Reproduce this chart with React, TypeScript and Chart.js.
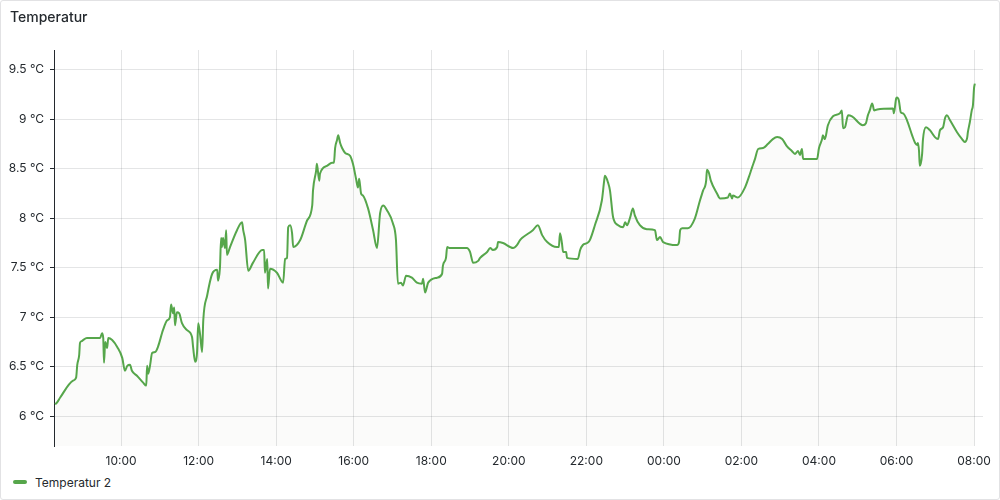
import React, { useEffect, useRef } from "react";
import { Chart, registerables } from "chart.js";

Chart.register(...registerables);

const seriesName = "Temperatur 2";
const title = "Temperatur";

// hours since midnight of the first day (24+ = next day)
const times = [
  8.30, 8.35, 8.43, 8.76, 8.84, 8.87, 8.92, 8.94, 8.99, 9.02, 9.12, 9.46, 9.51, 9.54, 9.56, 9.59, 9.64, 9.67, 9.77, 9.90,
  10.03, 10.10, 10.16, 10.23, 10.28, 10.41, 10.57, 10.65, 10.67, 10.70, 10.75, 10.80, 10.88, 10.95, 11.08, 11.19, 11.26, 11.29, 11.34, 11.37,
  11.39, 11.44, 11.50, 11.57, 11.70, 11.83, 11.86, 11.91, 11.96, 11.99, 12.04, 12.09, 12.12, 12.22, 12.35, 12.48, 12.50, 12.55, 12.58, 12.60,
  12.63, 12.68, 12.71, 12.73, 12.81, 12.99, 13.12, 13.15, 13.20, 13.28, 13.40, 13.64, 13.69, 13.71, 13.77, 13.79, 13.84, 14.02, 14.18, 14.23,
  14.28, 14.31, 14.36, 14.41, 14.44, 14.62, 14.80, 14.93, 14.95, 15.03, 15.05, 15.11, 15.13, 15.31, 15.44, 15.49, 15.52, 15.57, 15.60, 15.65,
  15.70, 15.78, 15.91, 15.98, 16.06, 16.11, 16.14, 16.19, 16.24, 16.37, 16.50, 16.60, 16.68, 16.76, 16.86, 17.01, 17.09, 17.14, 17.22, 17.27,
  17.35, 17.50, 17.63, 17.76, 17.79, 17.84, 17.92, 18.15, 18.28, 18.30, 18.38, 18.41, 18.48, 18.92, 19.00, 19.08, 19.21, 19.26, 19.44, 19.52,
  19.59, 19.70, 19.72, 19.85, 20.11, 20.21, 20.29, 20.34, 20.62, 20.75, 20.86, 20.99, 21.24, 21.29, 21.32, 21.37, 21.40, 21.48, 21.50, 21.78,
  21.84, 21.91, 22.02, 22.09, 22.22, 22.40, 22.46, 22.48, 22.56, 22.61, 22.69, 22.82, 22.95, 23.00, 23.05, 23.13, 23.20, 23.25, 23.38, 23.56,
  23.77, 23.82, 23.90, 23.98, 24.34, 24.39, 24.42, 24.47, 24.62, 24.80, 24.93, 25.01, 25.09, 25.11, 25.16, 25.21, 25.37, 25.45, 25.65, 25.70,
  25.76, 25.78, 25.91, 26.09, 26.22, 26.27, 26.35, 26.43, 26.56, 26.68, 26.81, 26.92, 27.05, 27.17, 27.30, 27.38, 27.46, 27.51, 27.56, 27.59,
  27.95, 28.00, 28.08, 28.10, 28.15, 28.23, 28.36, 28.54, 28.59, 28.62, 28.67, 28.75, 28.85, 29.13, 29.21, 29.26, 29.31, 29.37, 29.39, 29.42,
  29.50, 29.91, 29.93, 29.99, 30.01, 30.06, 30.11, 30.17, 30.27, 30.40, 30.48, 30.53, 30.55, 30.58, 30.60, 30.66, 30.68, 30.76, 30.86, 30.99,
  31.07, 31.12, 31.20, 31.25, 31.30, 31.38, 31.56, 31.69, 31.76, 31.82, 31.84, 31.89, 31.94, 31.97, 32.00, 32.02,
];

const temps = [
  6.12, 6.14, 6.19, 6.36, 6.39, 6.52, 6.62, 6.74, 6.76, 6.77, 6.79, 6.79, 6.84, 6.79, 6.54, 6.75, 6.69, 6.79, 6.77, 6.70,
  6.59, 6.46, 6.51, 6.52, 6.46, 6.41, 6.34, 6.31, 6.51, 6.43, 6.52, 6.64, 6.65, 6.70, 6.87, 6.97, 7.00, 7.13, 7.04, 7.10,
  6.92, 7.05, 7.04, 6.94, 6.87, 6.80, 6.69, 6.55, 6.65, 6.94, 6.82, 6.65, 6.97, 7.22, 7.44, 7.48, 7.37, 7.50, 7.80, 7.71,
  7.80, 7.70, 7.88, 7.63, 7.71, 7.88, 7.96, 7.88, 7.78, 7.47, 7.55, 7.68, 7.68, 7.45, 7.59, 7.29, 7.49, 7.45, 7.35, 7.59,
  7.60, 7.91, 7.93, 7.85, 7.71, 7.78, 7.98, 8.13, 8.28, 8.48, 8.55, 8.38, 8.45, 8.53, 8.56, 8.56, 8.71, 8.79, 8.84, 8.76,
  8.71, 8.66, 8.63, 8.55, 8.40, 8.31, 8.40, 8.25, 8.23, 8.10, 7.88, 7.70, 8.05, 8.13, 8.08, 7.95, 7.78, 7.34, 7.35, 7.32,
  7.42, 7.40, 7.35, 7.34, 7.39, 7.25, 7.35, 7.40, 7.44, 7.52, 7.60, 7.71, 7.70, 7.70, 7.66, 7.55, 7.57, 7.60, 7.66, 7.70,
  7.68, 7.71, 7.76, 7.75, 7.70, 7.73, 7.78, 7.80, 7.88, 7.93, 7.83, 7.76, 7.71, 7.71, 7.85, 7.75, 7.66, 7.66, 7.60, 7.59,
  7.68, 7.73, 7.75, 7.78, 7.93, 8.18, 8.38, 8.43, 8.36, 8.28, 8.01, 7.93, 7.91, 7.96, 7.93, 8.01, 8.10, 8.03, 7.93, 7.89,
  7.88, 7.78, 7.81, 7.76, 7.73, 7.76, 7.88, 7.90, 7.90, 8.00, 8.18, 8.28, 8.38, 8.49, 8.46, 8.38, 8.25, 8.20, 8.21, 8.25,
  8.20, 8.23, 8.21, 8.31, 8.45, 8.51, 8.60, 8.70, 8.71, 8.75, 8.80, 8.82, 8.80, 8.73, 8.68, 8.65, 8.68, 8.64, 8.70, 8.60,
  8.60, 8.71, 8.80, 8.84, 8.80, 8.94, 9.03, 9.06, 9.09, 8.91, 8.92, 9.04, 9.03, 8.94, 8.96, 9.04, 9.09, 9.16, 9.14, 9.09,
  9.10, 9.11, 9.06, 9.21, 9.22, 9.19, 9.07, 9.06, 8.99, 8.84, 8.76, 8.74, 8.76, 8.68, 8.53, 8.65, 8.79, 8.92, 8.89, 8.82,
  8.80, 8.89, 8.92, 9.01, 9.04, 8.99, 8.87, 8.80, 8.77, 8.81, 8.87, 8.97, 9.09, 9.14, 9.32, 9.36,
];

const xTicks = [10, 12, 14, 16, 18, 20, 22, 24, 26, 28, 30, 32];
const yTicks = [6, 6.5, 7, 7.5, 8, 8.5, 9, 9.5];

const xMin = 8.27;
const xMax = 32.23;
const yMin = 5.7;
const yMax = 9.7;

const lineColor = "#56a64b";
const textColor = "#24292e";
const gridColor = "rgba(36, 41, 46, 0.12)";
const FONT = "Inter, 'Noto Sans', sans-serif";

function fmtHour(v: number): string {
  const h = Math.round(v) % 24;
  return (h < 10 ? "0" : "") + h + ":00";
}

export default function App() {
  const canvasRef = useRef<HTMLCanvasElement | null>(null);

  useEffect(() => {
    document.body.style.margin = "0";
    const canvas = canvasRef.current;
    if (!canvas) return;
    const points = times.map((t, i) => ({ x: t, y: temps[i] }));
    const chart = new Chart(canvas, {
      type: "line",
      data: {
        datasets: [
          {
            label: seriesName,
            data: points,
            borderColor: lineColor,
            borderWidth: 2,
            backgroundColor: "rgba(90, 90, 40, 0.025)",
            fill: "start",
            pointRadius: 0,
            cubicInterpolationMode: "monotone",
          },
        ],
      },
      options: {
        animation: false,
        responsive: false,
        maintainAspectRatio: false,
        layout: { padding: { left: 0, right: 17, top: 50, bottom: 0 } },
        plugins: {
          legend: { display: false },
          tooltip: { enabled: false },
          title: { display: false },
        },
        scales: {
          x: {
            type: "linear",
            min: xMin,
            max: xMax,
            afterBuildTicks: (scale: any) => {
              scale.ticks = xTicks.map((v) => ({ value: v }));
            },
            afterFit: (scale: any) => {
              scale.height = 24;
            },
            grid: { color: gridColor, drawTicks: false },
            border: { display: false },
            ticks: {
              color: textColor,
              font: { family: FONT, size: 12 },
              padding: 8,
              maxRotation: 0,
              autoSkip: false,
              callback: (v: any) => fmtHour(Number(v)),
            },
          },
          y: {
            type: "linear",
            min: yMin,
            max: yMax,
            afterBuildTicks: (scale: any) => {
              scale.ticks = yTicks.map((v) => ({ value: v }));
            },
            afterFit: (scale: any) => {
              scale.width = 54;
            },
            grid: { color: gridColor, tickColor: textColor, tickLength: 4, drawTicks: true },
            border: { display: true, color: textColor, width: 1 },
            ticks: {
              color: textColor,
              font: { family: FONT, size: 12 },
              padding: 6,
              autoSkip: false,
              callback: (v: any) => Number(v) + " °C",
            },
          },
        },
      },
    });
    return () => chart.destroy();
  }, []);

  return (
    <div
      style={{
        position: "relative",
        width: 1000,
        height: 500,
        boxSizing: "border-box",
        border: "1px solid #e2e2e4",
        borderRadius: 3,
        background: "#fff",
        overflow: "hidden",
        fontFamily: FONT,
      }}
    >
      <canvas
        ref={canvasRef}
        width={1000}
        height={470}
        style={{ position: "absolute", left: -1, top: -1, width: 1000, height: 470 }}
      />
      <div
        style={{
          position: "absolute",
          left: 9,
          top: 7,
          fontSize: 14,
          fontWeight: 500,
          lineHeight: "18px",
          color: textColor,
        }}
      >
        {title}
      </div>
      <div
        style={{
          position: "absolute",
          left: 12,
          top: 472,
          height: 18,
          display: "flex",
          alignItems: "center",
          fontSize: 12,
          color: textColor,
        }}
      >
        <span
          style={{
            display: "inline-block",
            width: 14,
            height: 4,
            borderRadius: 2,
            background: lineColor,
            marginRight: 8,
          }}
        />
        <span>{seriesName}</span>
      </div>
    </div>
  );
}
